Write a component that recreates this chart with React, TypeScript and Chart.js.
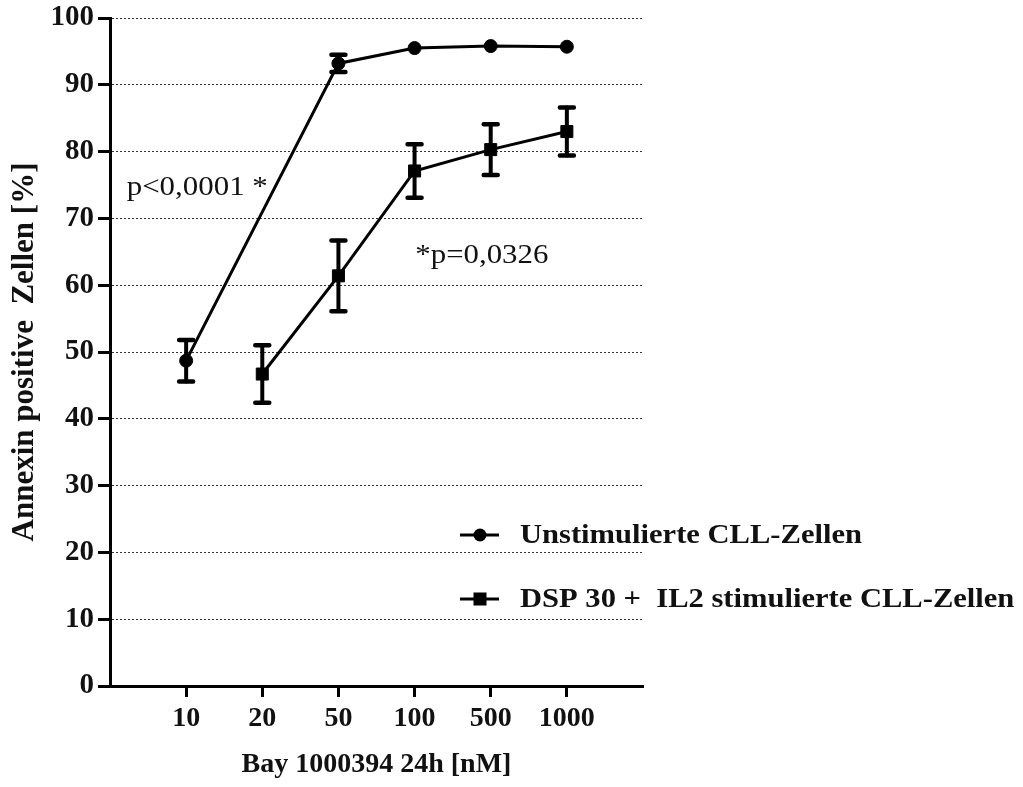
import React, { useEffect, useRef } from "react";
import { Chart, registerables } from "chart.js";

Chart.register(...registerables);

const categories = ["10", "20", "50", "100", "500", "1000"];
const unstimValues: (number | null)[] = [48.7, null, 93.2, 95.5, 95.8, 95.7];
const unstimErrors: (number | null)[] = [3.1, null, 1.3, 0, 0, 0];
const stimValues: (number | null)[] = [null, 46.7, 61.4, 77.1, 80.3, 83.0];
const stimErrors: (number | null)[] = [null, 4.3, 5.3, 4.0, 3.8, 3.6];
const seriesLabels = ["Unstimulierte CLL-Zellen", "DSP 30 +  IL2 stimulierte CLL-Zellen"];
const xTitle = "Bay 1000394 24h [nM]";
const yTitle = "Annexin positive  Zellen [%]";
const annotationTexts = ["p<0,0001 *", "*p=0,0326"];
const annotationX = [-0.78, 3.01];
const annotationY = [74.6, 64.4];

const FONT = "'Liberation Serif', 'Times New Roman', serif";

// draws text horizontally stretched to mimic the wider reference glyphs
function stretchedText(ctx: CanvasRenderingContext2D, text: string, x: number, y: number, sx: number) {
  ctx.save();
  ctx.translate(x, y);
  ctx.scale(sx, 1);
  ctx.fillText(text, 0, 0);
  ctx.restore();
}

const overlayPlugin = {
  id: "overlay",
  afterDatasetsDraw(chart: any) {
    const { ctx, scales } = chart;
    const x = scales.x;
    const y = scales.y;
    ctx.save();
    const sets: [(number | null)[], (number | null)[]][] = [
      [unstimValues, unstimErrors],
      [stimValues, stimErrors],
    ];
    ctx.strokeStyle = "#000";
    ctx.lineCap = "round";
    sets.forEach(([vals, errs]) => {
      vals.forEach((v, i) => {
        const e = errs[i];
        if (v == null || e == null || e <= 0) return;
        const px = x.getPixelForValue(i);
        const top = y.getPixelForValue(v + e);
        const bot = y.getPixelForValue(v - e);
        ctx.lineWidth = 4;
        ctx.beginPath();
        ctx.moveTo(px, top);
        ctx.lineTo(px, bot);
        ctx.stroke();
        ctx.lineWidth = 4.5;
        ctx.beginPath();
        ctx.moveTo(px - 7, top);
        ctx.lineTo(px + 7, top);
        ctx.moveTo(px - 7, bot);
        ctx.lineTo(px + 7, bot);
        ctx.stroke();
      });
    });
    // annotations
    ctx.fillStyle = "#111";
    ctx.font = `27px ${FONT}`;
    ctx.textAlign = "left";
    ctx.textBaseline = "middle";
    annotationTexts.forEach((t, i) => {
      const tx = x.getPixelForValue(annotationX[i]);
      const ty = y.getPixelForValue(annotationY[i]);
      const w = ctx.measureText(t).width;
      const target = i === 0 ? 141 : 133;
      stretchedText(ctx, t, tx, ty, target / w);
    });
    // legend
    const rows = [535, 599];
    ctx.lineCap = "butt";
    rows.forEach((ry, i) => {
      ctx.strokeStyle = "#000";
      ctx.lineWidth = 3;
      ctx.beginPath();
      ctx.moveTo(460, ry);
      ctx.lineTo(499, ry);
      ctx.stroke();
      ctx.fillStyle = "#000";
      if (i === 0) {
        ctx.beginPath();
        ctx.arc(480, ry, 6.5, 0, Math.PI * 2);
        ctx.fill();
      } else {
        ctx.fillRect(473.5, ry - 6.5, 13, 13);
      }
      ctx.fillStyle = "#111";
      ctx.font = `bold 27px ${FONT}`;
      ctx.textBaseline = "middle";
      const w = ctx.measureText(seriesLabels[0]).width;
      stretchedText(ctx, seriesLabels[i], 520, ry + 1, 342 / w);
    });
    ctx.restore();
  },
};

export default function App() {
  const ref = useRef<HTMLCanvasElement | null>(null);
  useEffect(() => {
    if (!ref.current) return;
    const toXY = (vals: (number | null)[]) => vals.map((v, i) => ({ x: i, y: v }));
    const chart = new Chart(ref.current, {
      type: "line",
      data: {
        datasets: [
          {
            label: seriesLabels[0],
            data: toXY(unstimValues) as any,
            borderColor: "#000",
            backgroundColor: "#000",
            borderWidth: 3,
            pointStyle: "circle",
            pointRadius: 6.5,
            pointBorderWidth: 1,
            spanGaps: true,
          },
          {
            label: seriesLabels[1],
            data: toXY(stimValues) as any,
            borderColor: "#000",
            backgroundColor: "#000",
            borderWidth: 3,
            pointStyle: "rect",
            pointRadius: 8.5,
            pointBorderWidth: 1,
            spanGaps: true,
          },
        ],
      },
      options: {
        animation: false,
        responsive: false,
        maintainAspectRatio: false,
        layout: { padding: { left: 0, top: 18, right: 380, bottom: 0 } },
        plugins: {
          legend: { display: false },
          tooltip: { enabled: false },
        },
        scales: {
          x: {
            type: "linear",
            min: -1,
            max: 6,
            afterBuildTicks: (s: any) => {
              s.ticks = categories.map((_, i) => ({ value: i }));
            },
            afterFit: (s: any) => {
              s.height = 101;
              s.paddingLeft = 0;
              s.paddingRight = 0;
            },
            ticks: {
              stepSize: 1,
              autoSkip: false,
              maxRotation: 0,
              padding: 5,
              color: "#111",
              font: { family: FONT, size: 28, weight: "bold" },
              callback: (v: any) => categories[v as number] ?? "",
            },
            grid: {
              drawOnChartArea: false,
              drawTicks: true,
              tickLength: 11,
              tickWidth: 3,
              tickColor: "#000",
              color: "#000",
            },
            border: { display: true, width: 3, color: "#000" },
            title: {
              display: true,
              text: xTitle,
              color: "#111",
              font: { family: FONT, size: 28, weight: "bold" },
              padding: { top: 0, bottom: 5 },
            },
          },
          y: {
            type: "linear",
            min: 0,
            max: 100,
            afterFit: (s: any) => {
              s.width = 110;
              s.paddingTop = 0;
              s.paddingBottom = 0;
            },
            ticks: {
              stepSize: 10,
              padding: 4,
              color: "#111",
              font: { family: FONT, size: 29, weight: "bold" },
            },
            grid: {
              drawOnChartArea: true,
              drawTicks: true,
              tickLength: 12,
              tickWidth: 3,
              tickColor: "#000",
              tickBorderDash: [],
              color: "#333",
              lineWidth: 1,
            },
            border: { display: true, width: 3, color: "#000", dash: [2, 2] },
            title: {
              display: true,
              text: yTitle,
              color: "#111",
              font: { family: FONT, size: 31, weight: "bold" },
              padding: { top: 6, bottom: 0 },
            },
          },
        },
      },
      plugins: [overlayPlugin],
    });
    return () => chart.destroy();
  }, []);
  return (
    <div style={{ position: "absolute", left: 0, top: 0, width: 1023, height: 787 }}>
      <canvas ref={ref} width={1023} height={787} style={{ display: "block" }} />
    </div>
  );
}
